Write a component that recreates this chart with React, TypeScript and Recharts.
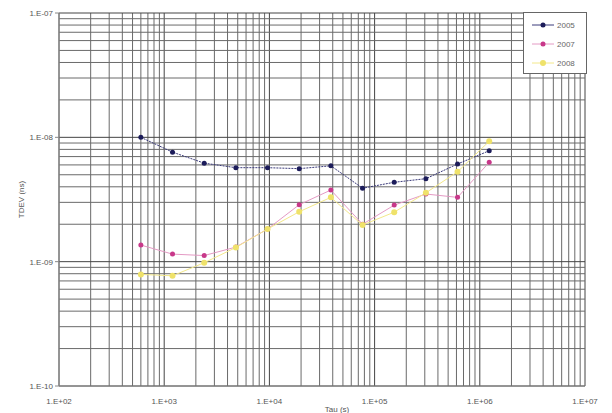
import React from 'react';
import { LineChart, Line, XAxis, YAxis, ReferenceLine } from 'recharts';

const taus = [600, 1200, 2400, 4800, 9600, 19200, 38400, 76800, 153600, 307200, 614400, 1228800];
const tdev2005 = [1.0e-8, 7.6e-9, 6.2e-9, 5.7e-9, 5.7e-9, 5.6e-9, 5.9e-9, 3.9e-9, 4.35e-9, 4.65e-9, 6.1e-9, 7.8e-9];
const tdev2007 = [1.36e-9, 1.15e-9, 1.12e-9, 1.31e-9, 1.83e-9, 2.87e-9, 3.77e-9, 2.0e-9, 2.85e-9, 3.5e-9, 3.29e-9, 6.3e-9];
const tdev2008 = [7.9e-10, 7.7e-10, 9.8e-10, 1.3e-9, 1.83e-9, 2.52e-9, 3.29e-9, 1.97e-9, 2.5e-9, 3.58e-9, 5.28e-9, 9.3e-9];
const seriesNames = ['2005', '2007', '2008'];
const xTicks = [1e2, 1e3, 1e4, 1e5, 1e6, 1e7];
const yTicks = [1e-10, 1e-9, 1e-8, 1e-7];

const colors = ['#1c1c5a', '#c8388a', '#efe26a'];
const lineColors = ['#3a3a7a', '#e49ac4', '#f3e88a'];

const data = taus.map((t, i) => ({ tau: t, s2005: tdev2005[i], s2007: tdev2007[i], s2008: tdev2008[i] }));

const minorValues = (lo: number, hi: number) => {
  const out: { v: number; major: boolean }[] = [];
  for (let e = lo; e < hi; e++) {
    for (let m = 1; m <= 9; m++) {
      out.push({ v: m * Math.pow(10, e), major: m === 1 });
    }
  }
  out.push({ v: Math.pow(10, hi), major: true });
  return out;
};
const xGrid = minorValues(2, 7);
const yGrid = minorValues(-10, -7);

const fmt = (v: number) => {
  const e = Math.round(Math.log10(v));
  const s = e < 0 ? '-' : '+';
  const a = Math.abs(e);
  return '1.E' + s + (a < 10 ? '0' + a : String(a));
};

const font = '"Liberation Sans", Arial, sans-serif';

const LegendBox = () => (
  <div
    style={{
      position: 'absolute', left: 523, top: 12, width: 64, height: 62, boxSizing: 'border-box',
      border: '1px solid #666', background: '#fff', fontFamily: font, fontSize: 8, color: '#666',
    }}
  >
    {seriesNames.map((n, i) => (
      <div key={n} style={{ position: 'absolute', left: 8, top: 7 + i * 19, height: 10, display: 'flex', alignItems: 'center' }}>
        <svg width={22} height={10}>
          <line x1={0} y1={5} x2={22} y2={5} stroke={lineColors[i]} strokeWidth={1} />
          <circle cx={11} cy={5} r={i === 2 ? 3 : 2.5} fill={colors[i]} />
        </svg>
        <span style={{ marginLeft: 3 }}>{n}</span>
      </div>
    ))}
  </div>
);

export default function App() {
  const keys = ['s2005', 's2007', 's2008'];
  return (
    <div style={{ position: 'absolute', left: 0, top: 0, width: 612, height: 413, background: '#fff' }}>
      <LineChart width={612} height={413} data={data} margin={{ top: 13, right: 27, bottom: 0, left: 0 }}>
        <XAxis
          dataKey="tau"
          type="number"
          scale="log"
          domain={[1e2, 1e7]}
          allowDataOverflow
          ticks={xTicks}
          tickFormatter={fmt}
          height={27}
          tick={{ fontSize: 8, fill: '#555', fontFamily: font }}
          tickLine={false}
          axisLine={{ stroke: '#888' }}
          tickMargin={6}
          label={{ value: 'Tau (s)', position: 'insideBottom', offset: 1, dx: 15, fontSize: 8, fill: '#555', fontFamily: font }}
        />
        <YAxis
          type="number"
          scale="log"
          domain={[1e-10, 1e-7]}
          allowDataOverflow
          ticks={yTicks}
          tickFormatter={fmt}
          width={59}
          tick={{ fontSize: 8, fill: '#555', fontFamily: font }}
          tickLine={{ stroke: '#888' }}
          tickSize={4}
          axisLine={{ stroke: '#888' }}
          label={{ value: 'TDEV (ns)', angle: -90, position: 'center', dx: -8, fontSize: 8, fill: '#555', fontFamily: font }}
        />
        {xGrid.map((g) => (
          <ReferenceLine key={'x' + g.v} x={g.v} stroke={g.major ? '#444' : '#6a6a6a'} strokeWidth={1} />
        ))}
        {yGrid.map((g) => (
          <ReferenceLine key={'y' + g.v} y={g.v} stroke={g.major ? '#444' : '#6a6a6a'} strokeWidth={1} />
        ))}
        {keys.map((k, i) => (
          <Line
            key={k}
            dataKey={k}
            name={seriesNames[i]}
            type="linear"
            stroke={lineColors[i]}
            strokeWidth={1}
            strokeDasharray={i === 0 ? '2 1' : undefined}
            dot={{ r: i === 2 ? 3 : 2.5, fill: colors[i], stroke: colors[i], strokeWidth: 0 }}
            isAnimationActive={false}
          />
        ))}
      </LineChart>
      <LegendBox />
    </div>
  );
}
